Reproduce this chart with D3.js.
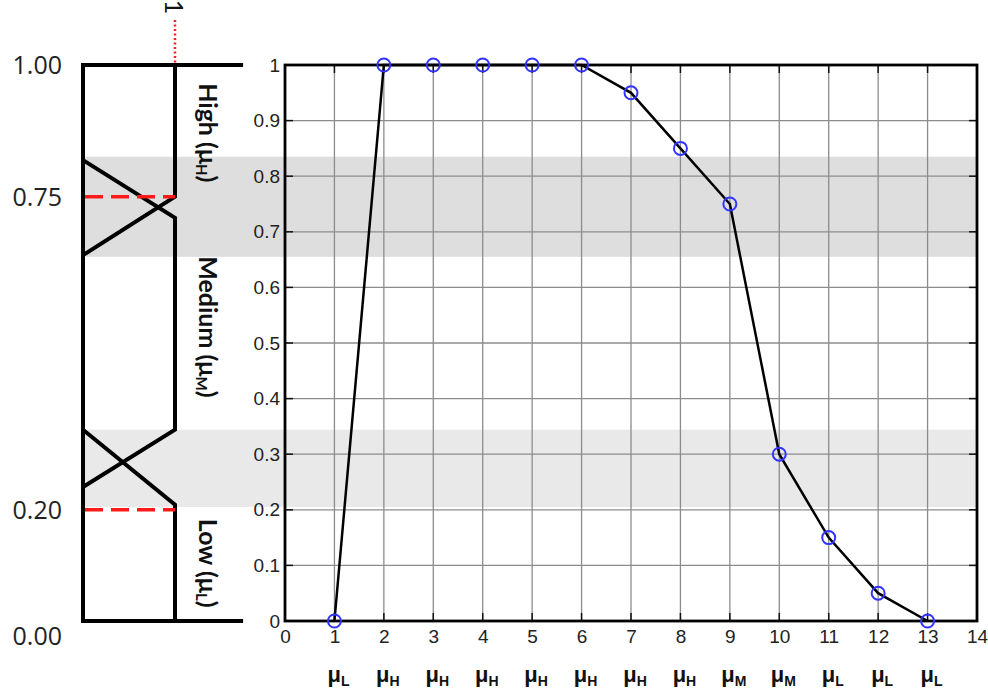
<!DOCTYPE html>
<html>
<head>
<meta charset="utf-8">
<script src="https://cdn.jsdelivr.net/npm/d3@7"></script>
<style>
  body { margin: 0; background: #fff; }
  svg { display: block; }
</style>
</head>
<body>
<svg id="chart"></svg>
<script>
/* data */
const xs = [1, 2, 3, 4, 5, 6, 7, 8, 9, 10, 11, 12, 13];
const ys = [0, 1, 1, 1, 1, 1, 0.95, 0.85, 0.75, 0.3, 0.15, 0.05, 0];
const classes = ["L", "H", "H", "H", "H", "H", "H", "H", "M", "M", "L", "L", "L"];
const xTicks = d3.range(0, 15);
const yTicks = d3.range(0, 11).map(i => i / 10);

/* membership scale on the left (level values) */
const levelLabels = ["1.00", "0.75", "0.20", "0.00"];
const levelValues = [1, 0.763, 0.2, 0];
const bands = [[0.655, 0.835], [0.205, 0.344]];
const bandColors = ["#dedede", "#e9e9e9"];
const highShape = [[1, 1], [1, 0.763], [0, 0.658]];
const mediumShape = [[0, 0.829], [1, 0.725], [1, 0.344], [0, 0.241]];
const lowShape = [[0, 0.344], [1, 0.209], [1, 0]];
const frameShape = [[1.74, 1], [0, 1], [0, 0], [1.74, 0]];
const cutLevels = [0.763, 0.2];
const setNames = [{name: "High", sub: "H", at: 0.878}, {name: "Medium", sub: "M", at: 0.529}, {name: "Low", sub: "L", at: 0.104}];

const width = 988, height = 698;
const plot = {left: 285, right: 977, top: 65, bottom: 621};

const svg = d3.select("#chart").attr("width", width).attr("height", height);

const x = d3.scaleLinear().domain([0, 14]).range([plot.left, plot.right]);
const y = d3.scaleLinear().domain([0, 1]).range([plot.bottom, plot.top]);
const px = d3.scaleLinear().domain([0, 1]).range([83, 175]);

/* gray bands across both panels */
svg.append("g").selectAll("rect").data(bands).enter().append("rect")
  .attr("x", px(0)).attr("width", plot.right - px(0))
  .attr("y", d => y(d[1])).attr("height", d => y(d[0]) - y(d[1]))
  .attr("fill", (d, i) => bandColors[i]);

/* grid */
const grid = svg.append("g").attr("stroke", "#8c8c8c").attr("stroke-width", 1.3);
grid.selectAll(".vx").data(xTicks.slice(1, -1)).enter().append("line")
  .attr("x1", d => x(d)).attr("x2", d => x(d)).attr("y1", plot.top).attr("y2", plot.bottom);
grid.selectAll(".hy").data(yTicks.slice(1, -1)).enter().append("line")
  .attr("x1", plot.left).attr("x2", plot.right).attr("y1", d => y(d)).attr("y2", d => y(d));

/* inward tick marks on all sides */
const tk = svg.append("g").attr("stroke", "#111").attr("stroke-width", 1.5);
xTicks.slice(1, -1).forEach(d => {
  tk.append("line").attr("x1", x(d)).attr("x2", x(d)).attr("y1", plot.bottom).attr("y2", plot.bottom - 8);
  tk.append("line").attr("x1", x(d)).attr("x2", x(d)).attr("y1", plot.top).attr("y2", plot.top + 8);
});
yTicks.slice(1, -1).forEach(d => {
  tk.append("line").attr("x1", plot.left).attr("x2", plot.left + 8).attr("y1", y(d)).attr("y2", y(d));
  tk.append("line").attr("x1", plot.right).attr("x2", plot.right - 8).attr("y1", y(d)).attr("y2", y(d));
});

/* axes labels */
const gx = svg.append("g").attr("transform", `translate(0,${plot.bottom})`)
  .call(d3.axisBottom(x).tickValues(xTicks).tickSize(0).tickPadding(9));
gx.select(".domain").remove();
gx.selectAll("text").attr("font-size", 19).attr("font-family", "Liberation Sans, Arial, sans-serif").attr("fill", "#222");

const gy = svg.append("g").attr("transform", `translate(${plot.left},0)`)
  .call(d3.axisLeft(y).tickValues(yTicks).tickFormat(d3.format("~g")).tickSize(0).tickPadding(5));
gy.select(".domain").remove();
gy.selectAll("text").attr("font-size", 19).attr("font-family", "Liberation Sans, Arial, sans-serif").attr("fill", "#222");

/* plot frame */
svg.append("rect").attr("x", plot.left).attr("y", plot.top)
  .attr("width", plot.right - plot.left).attr("height", plot.bottom - plot.top)
  .attr("fill", "none").attr("stroke", "#000").attr("stroke-width", 2.8);

/* membership curve */
const line = d3.line().x((d, i) => x(xs[i])).y(d => y(d));
svg.append("path").datum(ys).attr("d", line)
  .attr("fill", "none").attr("stroke", "#000").attr("stroke-width", 2.5);
svg.append("g").selectAll("circle").data(ys).enter().append("circle")
  .attr("cx", (d, i) => x(xs[i])).attr("cy", d => y(d)).attr("r", 6.5)
  .attr("fill", "none").attr("stroke", "#3333ff").attr("stroke-width", 2);

/* class labels under the x axis */
const cls = svg.append("g").selectAll("text").data(classes).enter().append("text")
  .attr("x", (d, i) => x(xs[i]) + 4).attr("y", 682)
  .attr("text-anchor", "middle").attr("font-family", "Liberation Sans, Arial, sans-serif")
  .attr("font-weight", "bold").attr("fill", "#111");
cls.append("tspan").attr("font-size", 22).text("μ");
cls.append("tspan").attr("font-size", 14).attr("dy", 4).text(d => d);

/* left panel: membership functions */
const pline = d3.line().x(d => px(d[0])).y(d => y(d[1]));
svg.append("g").selectAll("path").data([frameShape, highShape, mediumShape, lowShape]).enter().append("path")
  .attr("d", pline).attr("fill", "none").attr("stroke", "#000").attr("stroke-width", 4)
  .attr("stroke-linejoin", "miter");

svg.append("g").selectAll("line").data(cutLevels).enter().append("line")
  .attr("x1", px(0) + 2).attr("x2", px(1)).attr("y1", d => y(d)).attr("y2", d => y(d))
  .attr("stroke", "#ff1a1a").attr("stroke-width", 3.5).attr("stroke-dasharray", "18,8");

/* dotted marker above the top with "1" */
svg.append("line").attr("x1", px(1)).attr("x2", px(1)).attr("y1", 20).attr("y2", y(1) - 2)
  .attr("stroke", "#ff2020").attr("stroke-width", 2.5).attr("stroke-dasharray", "2,2.5");
svg.append("text").attr("transform", `translate(${px(1) - 10},7) rotate(90)`)
  .attr("text-anchor", "middle").attr("font-family", "Lato, sans-serif")
  .attr("font-size", 25).attr("fill", "#111").text("1");

/* level labels */
svg.append("g").selectAll("text").data(levelLabels).enter().append("text")
  .attr("x", 62).attr("y", (d, i) => y(levelValues[i]) + (i === 3 ? 15 : 0))
  .attr("dy", "0.35em").attr("text-anchor", "end")
  .attr("font-family", "Open Sans, sans-serif").attr("font-size", 25).attr("fill", "#222")
  .text(d => d);

/* set names, rotated */
const names = svg.append("g").selectAll("text").data(setNames).enter().append("text")
  .attr("transform", d => `translate(199,${y(d.at)}) rotate(90)`)
  .attr("text-anchor", "middle").attr("font-family", "Lato, sans-serif")
  .attr("font-weight", "bold").attr("font-size", 25).attr("fill", "#111");
names.append("tspan").text(d => d.name + " (μ");
names.append("tspan").attr("font-size", 15).attr("dy", 3).text(d => d.sub);
names.append("tspan").attr("dy", -3).text(")");
</script>
</body>
</html>
